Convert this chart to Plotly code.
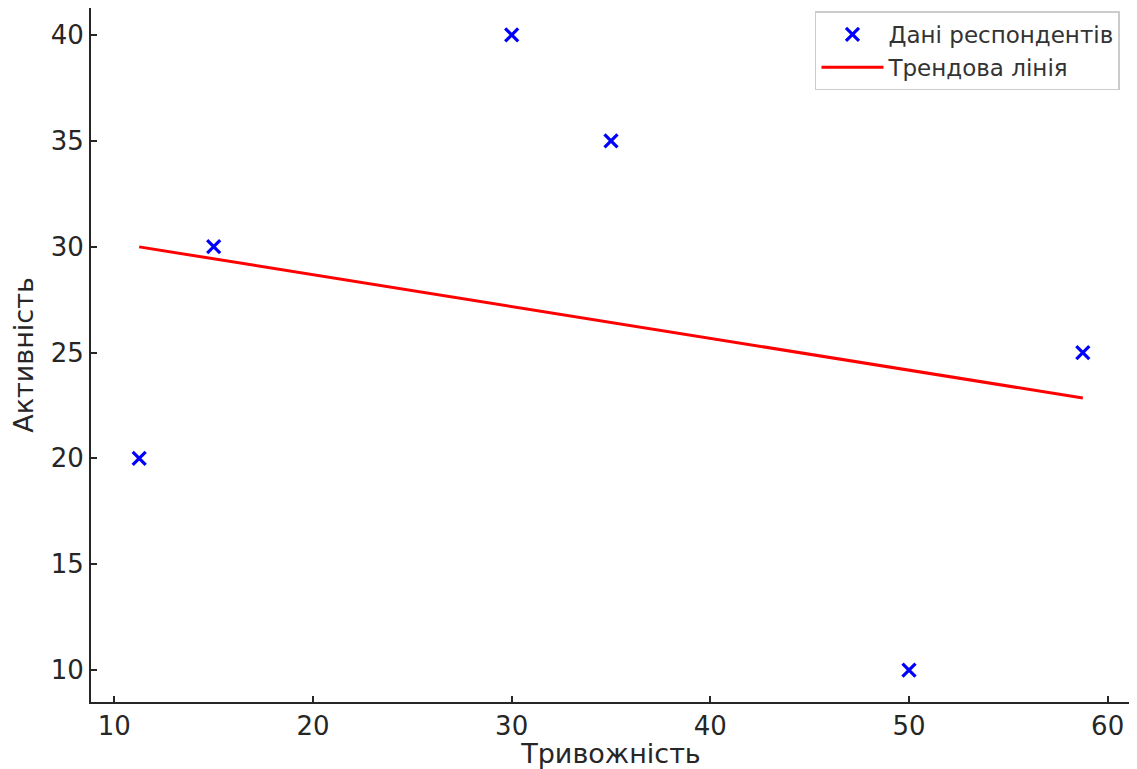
import plotly.graph_objects as go

anxiety = [11.25, 15, 30, 35, 50, 58.75]
activity = [20, 30, 40, 35, 10, 25]
trend_x = [11.25, 58.75]
trend_y = [29.99, 22.85]
x_ticks = [10, 20, 30, 40, 50, 60]
y_ticks = [10, 15, 20, 25, 30, 35, 40]

FONT = "DejaVu Sans"
INK = "#262626"

fig = go.Figure()
fig.add_trace(go.Scatter(
    x=anxiety, y=activity, mode="markers", name="Дані респондентів",
    marker=dict(symbol="x-thin", size=13, color="blue",
                line=dict(color="blue", width=3.2)),
))
fig.add_trace(go.Scatter(
    x=trend_x, y=trend_y, mode="lines", name="Трендова лінія",
    line=dict(color="red", width=3),
))

axis_common = dict(
    showgrid=False, zeroline=False, showline=True, linecolor=INK, linewidth=2,
    ticks="inside", ticklen=6, tickwidth=1.5, tickcolor=INK,
    tickfont=dict(family=FONT, size=26, color=INK), automargin=False,
)
fig.update_layout(
    width=1129, height=761,
    margin=dict(l=83, r=6, t=0, b=67),
    paper_bgcolor="white", plot_bgcolor="white",
    font=dict(family=FONT, color=INK),
    xaxis=dict(range=[8.825, 61.175], tickvals=x_ticks,
               title=dict(text="Тривожність", font=dict(family=FONT, size=27, color=INK), standoff=4),
               **axis_common),
    yaxis=dict(range=[8.49, 41.275], tickvals=y_ticks,
               title=dict(text="Активність", font=dict(family=FONT, size=27, color=INK), standoff=11),
               **axis_common),
    legend=dict(x=0.9894, y=0.995, xanchor="right", yanchor="top",
                bgcolor="rgba(255,255,255,0.8)", bordercolor="#cccccc", borderwidth=1.5,
                font=dict(family=FONT, size=23, color="#333333"),
                itemwidth=62, tracegroupgap=0),
    showlegend=True,
)
fig.write_html("out.html")
